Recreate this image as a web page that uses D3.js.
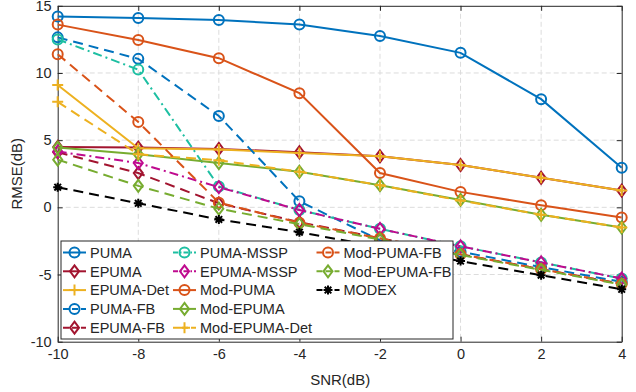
<!DOCTYPE html>
<html><head><meta charset="utf-8">
<script src="https://cdn.jsdelivr.net/npm/d3@7"></script>
<style>body{margin:0;background:#fff}text{font-family:"Liberation Sans",Arial,Helvetica,sans-serif;fill:#262626}</style>
</head><body><svg id="c" width="636" height="392"></svg>
<script>
const snr = [-10, -8, -6, -4, -2, 0, 2, 4];
const xTicks = [-10, -8, -6, -4, -2, 0, 2, 4];
const yTicks = [-10, -5, 0, 5, 10, 15];
const PUMA          = [14.2, 14.1, 13.95, 13.6, 12.75, 11.5, 8.05, 2.95];
const EPUMA         = [4.5, 4.45, 4.35, 4.1, 3.8, 3.15, 2.2, 1.25];
const EPUMA_Det     = [9.1, 4.4, 4.3, 4.05, 3.8, 3.15, 2.2, 1.25];
const PUMA_FB       = [12.65, 11.05, 6.8, 0.45, -2.45, -3.3, -4.45, -5.55];
const EPUMA_FB      = [4.1, 2.55, 0.3, -1.1, -2.3, -3.5, -4.6, -5.7];
const PUMA_MSSP     = [12.5, 10.25, 1.55, -0.2, -1.6, -2.9, -4.1, -5.3];
const EPUMA_MSSP    = [4.15, 3.3, 1.5, -0.2, -1.6, -2.9, -4.1, -5.3];
const Mod_PUMA      = [13.6, 12.45, 11.1, 8.5, 2.55, 1.15, 0.15, -0.75];
const Mod_EPUMA     = [4.45, 3.95, 3.3, 2.65, 1.65, 0.55, -0.55, -1.5];
const Mod_EPUMA_Det = [7.85, 3.95, 3.5, 2.65, 1.65, 0.5, -0.55, -1.5];
const Mod_PUMA_FB   = [11.4, 6.35, 0.35, -1.15, -2.3, -3.5, -4.6, -5.7];
const Mod_EPUMA_FB  = [3.55, 1.6, -0.1, -1.25, -2.4, -3.55, -4.65, -5.75];
const MODEX         = [1.5, 0.3, -0.9, -1.85, -2.95, -4.0, -5.05, -6.1];

const C = {blue:"#0072BD", red:"#A2142F", yellow:"#EDB120", orange:"#D95319", green:"#77AC30", teal:"#1DBFA2", mag:"#BF0A8E", black:"#000000"};
const SOLID = null, DASH = "10,6", DASHDOT = "9,4,2,4";
const series = [
  {name:"PUMA", values:PUMA, color:C.blue, dash:SOLID, marker:"circle"},
  {name:"EPUMA", values:EPUMA, color:C.red, dash:SOLID, marker:"diamond"},
  {name:"EPUMA-Det", values:EPUMA_Det, color:C.yellow, dash:SOLID, marker:"plus"},
  {name:"PUMA-FB", values:PUMA_FB, color:C.blue, dash:DASH, marker:"circle"},
  {name:"EPUMA-FB", values:EPUMA_FB, color:C.red, dash:DASH, marker:"diamond"},
  {name:"PUMA-MSSP", values:PUMA_MSSP, color:C.teal, dash:DASHDOT, marker:"circle"},
  {name:"EPUMA-MSSP", values:EPUMA_MSSP, color:C.mag, dash:DASHDOT, marker:"diamond"},
  {name:"Mod-PUMA", values:Mod_PUMA, color:C.orange, dash:SOLID, marker:"circle"},
  {name:"Mod-EPUMA", values:Mod_EPUMA, color:C.green, dash:SOLID, marker:"diamond"},
  {name:"Mod-EPUMA-Det", values:Mod_EPUMA_Det, color:C.yellow, dash:DASH, marker:"plus"},
  {name:"Mod-PUMA-FB", values:Mod_PUMA_FB, color:C.orange, dash:DASH, marker:"circle"},
  {name:"Mod-EPUMA-FB", values:Mod_EPUMA_FB, color:C.green, dash:DASH, marker:"diamond"},
  {name:"MODEX", values:MODEX, color:C.black, dash:DASH, marker:"star"}
];

const L = 57.7, R = 621.7, T = 5.8, B = 341.7;
const svg = d3.select("#c");
const x = d3.scaleLinear().domain([-10, 4]).range([L, R]);
const y = d3.scaleLinear().domain([-10, 15]).range([B, T]);

// grid
const grid = svg.append("g").attr("stroke", "#dcdcdc").attr("stroke-width", 1).attr("stroke-dasharray", "5,3");
grid.selectAll("line.gx").data(xTicks.slice(1, -1)).join("line")
  .attr("x1", d => x(d)).attr("x2", d => x(d)).attr("y1", T).attr("y2", B);
grid.selectAll("line.gy").data(yTicks.slice(1, -1)).join("line")
  .attr("y1", d => y(d)).attr("y2", d => y(d)).attr("x1", L).attr("x2", R);

// axes
const fmt = d => String(d);
const axStyle = g => { g.select(".domain").attr("stroke", "#262626").attr("stroke-width", 1);
  g.selectAll(".tick line").attr("stroke", "#262626");
  g.selectAll(".tick text").style("font-size", "14.5px").attr("fill", "#262626"); };
svg.append("g").attr("transform", `translate(0,${B})`)
  .call(d3.axisBottom(x).tickValues(xTicks).tickFormat(fmt).tickSizeInner(-5).tickSizeOuter(0).tickPadding(7)).call(axStyle)
  .attr("font-family", null);
svg.append("g").attr("transform", `translate(0,${T})`)
  .call(d3.axisTop(x).tickValues(xTicks).tickFormat("").tickSizeInner(-5).tickSizeOuter(0)).call(axStyle);
svg.append("g").attr("transform", `translate(${L},0)`)
  .call(d3.axisLeft(y).tickValues(yTicks).tickFormat(fmt).tickSizeInner(-5).tickSizeOuter(0).tickPadding(6)).call(axStyle)
  .attr("font-family", null);
svg.append("g").attr("transform", `translate(${R},0)`)
  .call(d3.axisRight(y).tickValues(yTicks).tickFormat("").tickSizeInner(-5).tickSizeOuter(0)).call(axStyle);

svg.append("text").attr("x", (L + R) / 2 + 0.5).attr("y", 385).attr("text-anchor", "middle")
  .style("font-size", "15px").text("SNR(dB)");
svg.append("text").attr("transform", `translate(22,${(T + B) / 2}) rotate(-90)`).attr("text-anchor", "middle")
  .style("font-size", "15px").text("RMSE(dB)");

// markers
const circ = "M5,0A5,5,0,1,1,-5,0A5,5,0,1,1,5,0Z";
function markerPath(type) {
  if (type === "circle") return circ;
  if (type === "diamond") return "M0,-6L4.5,0L0,6L-4.5,0Z";
  if (type === "plus") return "M-5.5,0H5.5M0,-5.5V5.5";
  if (type === "star") return "M-4.5,0H4.5M0,-4.5V4.5M-3.3,-3.3L3.3,3.3M-3.3,3.3L3.3,-3.3";
}
function drawMarker(g, type, color) {
  g.append("path").attr("d", markerPath(type))
    .attr("fill", "none").attr("stroke", color).attr("stroke-width", 2);
  if (type === "star") g.append("circle").attr("r", 2.6).attr("fill", color);
}

const line = d3.line().x((d, i) => x(snr[i])).y(d => y(d));
series.forEach(s => {
  const g = svg.append("g");
  g.append("path").datum(s.values).attr("d", line).attr("fill", "none")
    .attr("stroke", s.color).attr("stroke-width", 2).attr("stroke-dasharray", s.dash);
  s.values.forEach((v, i) => {
    const m = g.append("g").attr("transform", `translate(${x(snr[i])},${y(v)})`);
    drawMarker(m, s.marker, s.color);
  });
});

// legend
const lg = svg.append("g");
lg.append("rect").attr("x", 61).attr("y", 241).attr("width", 392).attr("height", 98)
  .attr("fill", "#fff").attr("stroke", "#262626").attr("stroke-width", 1);
const colX = [63, 173, 316.5];
series.forEach((s, k) => {
  const col = Math.floor(k / 5), row = k % 5;
  const cx = colX[col], cy = 252.5 + row * 18.8;
  const g = lg.append("g");
  g.append("line").attr("x1", cx).attr("x2", cx + 23).attr("y1", cy).attr("y2", cy)
    .attr("stroke", s.color).attr("stroke-width", 2).attr("stroke-dasharray", s.dash ? (s.dash === DASH ? "6,3" : "5,2,1.5,2") : null);
  const m = g.append("g").attr("transform", `translate(${cx + 11.5},${cy})`);
  drawMarker(m, s.marker, s.color);
  g.append("text").attr("x", cx + 27).attr("y", cy).attr("dy", "0.36em")
    .style("font-size", "14.5px").text(s.name);
});
</script></body></html>
